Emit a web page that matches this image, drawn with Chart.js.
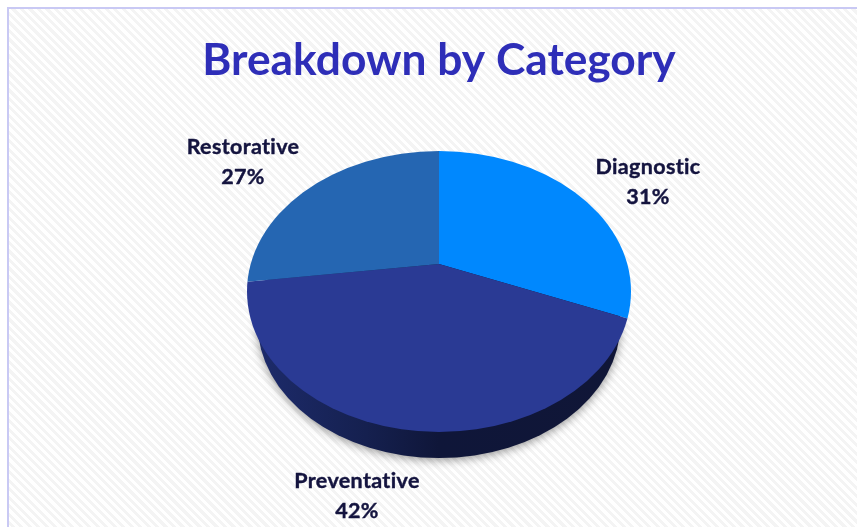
<!DOCTYPE html>
<html>
<head>
<meta charset="utf-8">
<title>Breakdown by Category</title>
<script src="https://cdn.jsdelivr.net/npm/chart.js@4"></script>
<style>
  html, body { margin: 0; padding: 0; background: #fff; overflow: hidden; }
  #frame {
    position: absolute; left: 7px; top: 7px; width: 850px; height: 520px;
    border-left: 2px solid #c9c9f4; border-top: 2px solid #c9c9f4;
    background: repeating-linear-gradient(45deg, #ffffff 0 3px, #f4f4f4 3px 6px);
  }
  canvas { position: absolute; left: 0; top: 0; }
</style>
</head>
<body>
<div id="frame"></div>
<canvas id="canvas" width="857" height="527"></canvas>
<script>
var categories = ['Diagnostic', 'Preventative', 'Restorative'];
var shares = [31, 42, 27];
var sliceColors = ['#0088fe', '#2a3a94', '#2566b2'];

// chart.js only does round pies, so the tilted look is done with a clip and a scale
var apex = { x: 439, y: 264 };
var topFace = { x: 439, y: 291.5, rx: 192, ry: 140.5 };
var bottomFace = { x: 439, y: 323, rx: 181.5, ry: 135 };
var squash = 0.73;
var labelSpots = [[648, 167], [357, 481], [243, 147]];

var tiltedPie = {
  id: 'tiltedPie',
  beforeDatasetsDraw: function (chart) {
    var ctx = chart.ctx;
    var side = ctx.createLinearGradient(bottomFace.x - bottomFace.rx, 0, bottomFace.x + bottomFace.rx, 0);
    side.addColorStop(0, '#1d2b6b');
    side.addColorStop(0.3, '#15204f');
    side.addColorStop(0.5, '#0f1639');
    side.addColorStop(1, '#101637');
    ctx.save();
    ctx.shadowColor = 'rgba(0,0,0,0.42)';
    ctx.shadowBlur = 10;
    ctx.shadowOffsetY = 2;
    ctx.fillStyle = side;
    ctx.beginPath();
    ctx.ellipse(bottomFace.x, bottomFace.y, bottomFace.rx, bottomFace.ry, 0, 0, Math.PI * 2);
    ctx.fill();
    ctx.restore();
  },
  beforeDatasetDraw: function (chart, args) {
    var ctx = chart.ctx;
    var arc = args.meta.data[0];
    ctx.save();
    ctx.beginPath();
    ctx.ellipse(topFace.x, topFace.y, topFace.rx, topFace.ry, 0, 0, Math.PI * 2);
    ctx.clip();
    ctx.translate(apex.x, apex.y);
    ctx.scale(1, squash);
    ctx.translate(-arc.x, -arc.y);
  },
  afterDatasetDraw: function (chart) {
    chart.ctx.restore();
  },
  afterDatasetsDraw: function (chart) {
    var ctx = chart.ctx;
    ctx.save();
    ctx.font = 'bold 21.5px Lato';
    ctx.letterSpacing = '0.35px';
    ctx.fillStyle = '#14143f';
    ctx.strokeStyle = '#14143f';
    ctx.lineWidth = 0.4;
    ctx.textAlign = 'center';
    ctx.textBaseline = 'middle';
    categories.forEach(function (name, i) {
      ctx.fillText(name, labelSpots[i][0], labelSpots[i][1]);
      ctx.strokeText(name, labelSpots[i][0], labelSpots[i][1]);
      ctx.fillText(shares[i] + '%', labelSpots[i][0], labelSpots[i][1] + 30);
      ctx.strokeText(shares[i] + '%', labelSpots[i][0], labelSpots[i][1] + 30);
    });
    ctx.restore();
  }
};

window.onload = function () {
  var ctx = document.getElementById('canvas').getContext('2d');
  window.myPie = new Chart(ctx, {
    type: 'pie',
    data: {
      labels: categories,
      datasets: [{
        data: shares,
        backgroundColor: sliceColors,
        borderWidth: 0,
        radius: 260,
        clip: false
      }]
    },
    options: {
      responsive: false,
      animation: false,
      layout: { padding: { left: 21 } },
      plugins: {
        legend: { display: false },
        tooltip: { enabled: false },
        title: {
          display: true,
          text: 'Breakdown by Category',
          color: '#2e2eb8',
          font: { family: 'Lato', size: 44.3, weight: 'bold' },
          padding: { top: 34, bottom: 0 }
        }
      }
    },
    plugins: [tiltedPie]
  });
};
</script>
</body>
</html>
